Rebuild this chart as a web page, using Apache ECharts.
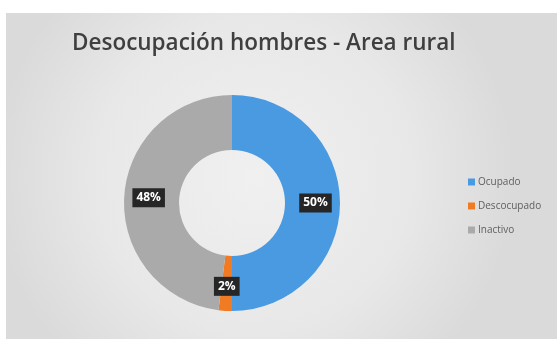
<!DOCTYPE html>
<html><head><meta charset="utf-8">
<script src="https://cdn.jsdelivr.net/npm/echarts@6/dist/echarts.min.js"></script>
<style>html,body{margin:0;padding:0;background:#fff}#c{width:557px;height:340px}</style>
</head><body><div id="c"></div>
<script>
const categories = ['Ocupado', 'Descocupado', 'Inactivo'];
const values = [50, 2, 48];
const colors = ['#4a9ae2', '#f07b22', '#aaaaaa'];

const chart = echarts.init(document.getElementById('c'));
chart.setOption({
  animation: false,
  graphic: [{
    type: 'rect', left: 6, top: 13, z: -10,
    shape: { width: 551, height: 326 },
    style: { fill: { type: 'radial', x: 0.45, y: 0.5, r: 0.8,
      colorStops: [{ offset: 0, color: '#f0f0f0' }, { offset: 0.6, color: '#e8e8e8' }, { offset: 1, color: '#dadada' }] } }
  }],
  title: {
    text: 'Desocupación hombres - Area rural',
    left: 67, top: 27, itemGap: 0,
    textStyle: { fontFamily: 'Open Sans', fontWeight: 600, fontSize: 22.5, color: '#3f3f3f' }
  },
  legend: {
    orient: 'vertical', left: 463, top: 172, itemGap: 14,
    itemWidth: 7, itemHeight: 7, icon: 'rect',
    data: categories,
    textStyle: { fontFamily: 'Open Sans', fontSize: 10, color: '#606060', padding: [0, 0, 0, -2] }
  },
  series: [{
    type: 'pie',
    center: [232, 203],
    radius: [53, 108],
    startAngle: 90,
    clockwise: true,
    avoidLabelOverlap: false,
    itemStyle: { borderWidth: 0 },
    label: {
      position: 'inside',
      formatter: p => p.value + '%',
      color: '#fff', fontFamily: 'Open Sans', fontWeight: 700, fontSize: 12,
      backgroundColor: '#262626', padding: [4, 4, 3, 4]
    },
    labelLine: { show: false },
    data: categories.map((n, i) => ({ name: n, value: values[i], itemStyle: { color: colors[i] } }))
  }]
});
</script></body></html>
